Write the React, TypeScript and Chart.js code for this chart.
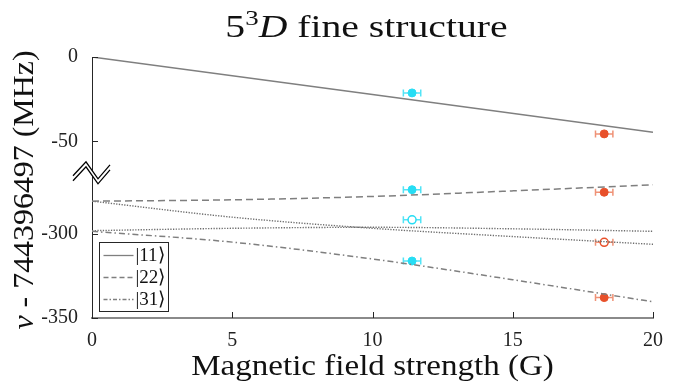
import React, { useEffect, useRef } from "react";
import { Chart, registerables } from "chart.js";
Chart.register(...registerables);

// ---- data ----
const fieldSamples = [0, 5, 10, 15, 20];
const level11Field = [0, 20];
const level11 = [0, -44.6];
const level22 = [-280.7, -279.9, -277.9, -274.6, -271.0];
const level31 = [-298.6, -305.0, -315.0, -327.3, -340.4];
const levelDotA = [-280.7, -290.2, -296.8, -301.7, -306.3];
const levelDotB = [-298.2, -296.8, -296.2, -297.1, -298.6];

const cyanField = [11.41];
const redField = [18.26];
const cyanFilled = [-21.3, -273.9, -316.2];
const cyanOpen = [-291.8];
const redFilled = [-45.6, -275.4, -337.9];
const redOpen = [-305.1];
const fieldErr = 0.31;

const yTickValues = [0, -50, -300, -350];
const yTickLabels = ["0", "-50", "-300", "-350"];
const xTickValues = [0, 5, 10, 15, 20];
const legendLabels = ["|11\u27E9", "|22\u27E9", "|31\u27E9"];

// broken axis: values below the break are shifted up
const BREAK_SHIFT = 195.2;
const toAxis = (v: number) => (v < -150 ? v + BREAK_SHIFT : v);
const BREAK_AXIS_VALUE = -67.5;

const FONT = "'Liberation Serif', 'Times New Roman', serif";
const GRAY = "#7f7f7f";
const AXIS = "#262626";
const CYAN = "#27DDF4";
const RED = "#E8502A";

const pts = (xs: number[], ys: number[]) => ys.map((y, i) => ({ x: xs.length === 1 ? xs[0] : xs[i], y: toAxis(y) }));

type Run = { text: string; font: string; dy?: number };
function runsWidth(ctx: CanvasRenderingContext2D, runs: Run[]) {
  let w = 0;
  for (const r of runs) {
    ctx.font = r.font;
    w += ctx.measureText(r.text).width;
  }
  return w;
}
function drawRuns(ctx: CanvasRenderingContext2D, runs: Run[], sx: number) {
  const w = runsWidth(ctx, runs);
  ctx.save();
  ctx.scale(sx, 1);
  let x = -w / 2;
  ctx.textBaseline = "alphabetic";
  ctx.textAlign = "left";
  for (const r of runs) {
    ctx.font = r.font;
    ctx.fillText(r.text, x, r.dy || 0);
    x += ctx.measureText(r.text).width;
  }
  ctx.restore();
}

const decorPlugin = {
  id: "decor",
  beforeDatasetsDraw(chart: any) {
    const ctx = chart.ctx as CanvasRenderingContext2D;
    const xs = chart.scales.x;
    chart.data.datasets.forEach((ds: any, i: number) => {
      if (!ds.xErr) return;
      const meta = chart.getDatasetMeta(i);
      meta.data.forEach((el: any, j: number) => {
        const raw = ds.data[j];
        const x1 = xs.getPixelForValue(raw.x - ds.xErr);
        const x2 = xs.getPixelForValue(raw.x + ds.xErr);
        const y = el.y;
        ctx.save();
        ctx.strokeStyle = ds.errColor;
        ctx.lineWidth = 1.5;
        ctx.beginPath();
        ctx.moveTo(x1, y);
        ctx.lineTo(x2, y);
        ctx.moveTo(x1, y - 3.5);
        ctx.lineTo(x1, y + 3.5);
        ctx.moveTo(x2, y - 3.5);
        ctx.lineTo(x2, y + 3.5);
        ctx.stroke();
        ctx.restore();
      });
    });
  },
  afterDraw(chart: any) {
    const ctx = chart.ctx as CanvasRenderingContext2D;
    const { left, right, bottom } = chart.chartArea;
    const xs = chart.scales.x;
    const ys = chart.scales.y;
    ctx.save();
    // inward ticks
    ctx.strokeStyle = AXIS;
    ctx.lineWidth = 1;
    ctx.beginPath();
    xTickValues.forEach((v) => {
      const px = Math.round(xs.getPixelForValue(v)) + 0.5;
      ctx.moveTo(px, bottom);
      ctx.lineTo(px, bottom - 6);
    });
    yTickValues.forEach((v) => {
      const py = Math.round(ys.getPixelForValue(toAxis(v))) + 0.5;
      ctx.moveTo(left, py);
      ctx.lineTo(left + 6, py);
    });
    ctx.stroke();

    // axis break symbol
    const yb = ys.getPixelForValue(BREAK_AXIS_VALUE);
    const zig = [
      [-19, 5],
      [-6, -9],
      [6, 8],
      [18, -6],
    ];
    const gap = 5;
    ctx.fillStyle = "#ffffff";
    ctx.beginPath();
    zig.forEach(([dx, dy], i) => (i ? ctx.lineTo(left + dx, yb + dy) : ctx.moveTo(left + dx, yb + dy)));
    for (let i = zig.length - 1; i >= 0; i--) ctx.lineTo(left + zig[i][0], yb + zig[i][1] + gap);
    ctx.closePath();
    ctx.fill();
    ctx.strokeStyle = "#000";
    ctx.lineWidth = 1.3;
    [0, gap].forEach((off) => {
      ctx.beginPath();
      zig.forEach(([dx, dy], i) => (i ? ctx.lineTo(left + dx, yb + dy + off) : ctx.moveTo(left + dx, yb + dy + off)));
      ctx.stroke();
    });

    // legend
    const bx = left + 7.5;
    const by = bottom - 75.5;
    const bw = 69;
    const bh = 69;
    ctx.fillStyle = "#fff";
    ctx.fillRect(bx, by, bw, bh);
    ctx.strokeStyle = AXIS;
    ctx.lineWidth = 1;
    ctx.strokeRect(bx, by, bw, bh);
    const dashes = [[], [5, 3], [4, 2, 1.5, 2]];
    legendLabels.forEach((lab, i) => {
      const ry = by + 13 + i * 22;
      ctx.strokeStyle = GRAY;
      ctx.lineWidth = 1.3;
      ctx.setLineDash(dashes[i]);
      ctx.beginPath();
      ctx.moveTo(bx + 4, ry);
      ctx.lineTo(bx + 34, ry);
      ctx.stroke();
      ctx.setLineDash([]);
      ctx.fillStyle = "#111";
      ctx.font = `19px ${FONT}`;
      ctx.textAlign = "left";
      ctx.textBaseline = "middle";
      ctx.fillText(lab, bx + 36, ry + 1);
    });

    // titles
    ctx.fillStyle = "#111";
    ctx.save();
    ctx.translate((left + right) / 2 - 6, 37);
    drawRuns(
      ctx,
      [
        { text: "5", font: `31px ${FONT}` },
        { text: "3", font: `21px ${FONT}`, dy: -12 },
        { text: "D", font: `italic 31px ${FONT}` },
        { text: " fine structure", font: `31px ${FONT}` },
      ],
      1.28
    );
    ctx.restore();

    ctx.save();
    ctx.translate((left + right) / 2, 375);
    drawRuns(ctx, [{ text: "Magnetic field strength (G)", font: `29px ${FONT}` }], 1.14);
    ctx.restore();

    ctx.save();
    ctx.translate(33, 190);
    ctx.rotate(-Math.PI / 2);
    drawRuns(
      ctx,
      [
        { text: "\u03BD", font: `italic 29px ${FONT}` },
        { text: " - 744396497 (MHz)", font: `29px ${FONT}` },
      ],
      1.1
    );
    ctx.restore();
    ctx.restore();
  },
};

export default function App() {
  const ref = useRef<HTMLCanvasElement>(null);
  useEffect(() => {
    document.body.style.margin = "0";
    const lineDs = (label: string, xs: number[], ys: number[], dash: number[], width = 1.5, color = GRAY) => ({
      type: "line",
      label,
      data: pts(xs, ys),
      borderColor: color,
      borderWidth: width,
      borderDash: dash,
      pointRadius: 0,
      fill: false,
      cubicInterpolationMode: "monotone",
    });
    const markDs = (label: string, xs: number[], ys: number[], color: string, errColor: string, open: boolean) => ({
      type: "scatter",
      label,
      data: pts(xs, ys),
      backgroundColor: open ? "#ffffff" : color,
      borderColor: color,
      borderWidth: open ? 1.5 : 1,
      pointRadius: 4,
      pointStyle: "circle",
      showLine: false,
      xErr: fieldErr,
      errColor,
    });
    const chart = new Chart(ref.current!, {
      type: "line",
      data: {
        datasets: [
          lineDs("|11>", level11Field, level11, []),
          lineDs("|22>", fieldSamples, level22, [7, 4]),
          lineDs("|31>", fieldSamples, level31, [6, 3, 1.5, 3]),
          lineDs("dotA", fieldSamples, levelDotA, [1.3, 1.4], 1.4, "#6e6e6e"),
          lineDs("dotB", fieldSamples, levelDotB, [1.3, 1.4], 1.4, "#6e6e6e"),
          markDs("cyan", cyanField, cyanFilled, CYAN, "rgba(39,221,244,0.8)", false),
          markDs("cyanOpen", cyanField, cyanOpen, CYAN, "rgba(39,221,244,0.8)", true),
          markDs("red", redField, redFilled, RED, "rgba(232,100,60,0.7)", false),
          markDs("redOpen", redField, redOpen, RED, "rgba(232,100,60,0.7)", true),
        ] as any,
      },
      options: {
        responsive: false,
        maintainAspectRatio: false,
        animation: false,
        devicePixelRatio: 1,
        layout: { padding: { top: 57, right: 23, left: 0, bottom: 0 } },
        plugins: { legend: { display: false }, title: { display: false }, tooltip: { enabled: false } },
        scales: {
          x: {
            type: "linear",
            min: 0,
            max: 20,
            afterBuildTicks: (s: any) => {
              s.ticks = xTickValues.map((v) => ({ value: v }));
            },
            afterFit: (s: any) => {
              s.height = 65;
            },
            grid: { display: false },
            border: { display: true, color: "#8a8a8a", width: 2 },
            ticks: {
              padding: 3,
              color: "#222",
              font: { family: FONT, size: 20 },
              maxRotation: 0,
              callback: (v: any) => String(v),
            },
          },
          y: {
            type: "linear",
            min: toAxis(-350),
            max: 0,
            afterBuildTicks: (s: any) => {
              s.ticks = yTickValues.map((v) => ({ value: toAxis(v) }));
            },
            afterFit: (s: any) => {
              s.width = 92;
            },
            grid: { display: false },
            border: { display: true, color: AXIS, width: 1 },
            ticks: {
              padding: 6,
              color: "#222",
              font: { family: FONT, size: 20 },
              callback: (_v: any, i: number) => yTickLabels[i],
            },
          },
        },
      } as any,
      plugins: [decorPlugin],
    });
    return () => chart.destroy();
  }, []);
  return <canvas ref={ref} width={676} height={383} style={{ display: "block", width: 676, height: 383 }} />;
}
